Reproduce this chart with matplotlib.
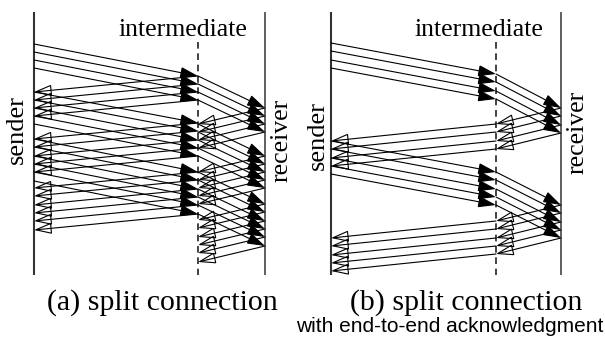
import matplotlib
matplotlib.use('Agg')
import matplotlib.pyplot as plt

# event times (vertical position, time runs downward)
# (a) split connection
a_up_send = [44, 52, 60, 68, 92, 100, 108, 116, 124, 139, 147, 156, 164, 172, 181]
a_up_arr = [76, 84, 92, 100, 123, 131, 140, 148, 156, 172, 180, 189, 197, 205, 214]
a_up_ack = [92, 100, 108, 116, 139, 147, 156, 164, 172, 188, 196, 205, 213, 221, 230]
a_dn_send = [76, 84, 92, 100, 124, 132, 140, 148, 156, 172, 180, 189, 197, 205, 214]
a_dn_arr = [108, 116, 124, 132, 156, 164, 172, 180, 188, 204, 212, 221, 229, 237, 246]
a_dn_ack = [124, 132, 140, 148, 172, 180, 188, 196, 204, 220, 228, 237, 245, 253, 262]

# (b) split connection with end-to-end acknowledgment
b_up_send = [43, 51, 60, 68, 141, 149, 158, 166, 174]
b_up_arr = [74, 82, 91, 99, 172, 180, 189, 197, 205]
b_dn_arr = [108, 116, 125, 133, 205, 213, 222, 230, 238]
b_ack_mid = [124, 132, 141, 149, 221, 229, 238, 246, 254]
b_ack_snd = [141, 149, 158, 166, 238, 246, 255, 263, 271]

# layout (pixels)
NODES_A = (34, 198, 265)
NODES_B = (331, 496, 561)
TOP, BOTTOM, DASH_TOP = 12, 275, 42

SERIF = ['Liberation Serif', 'DejaVu Serif']
SANS = ['Liberation Sans', 'DejaVu Sans']

fig = plt.figure(figsize=(6.05, 3.4), dpi=100)
ax = fig.add_axes([0, 0, 1, 1])
ax.set_xlim(0, 605)
ax.set_ylim(340, 0)
ax.axis('off')


def arrow(x0, t0, x1, t1, filled):
    ax.annotate('', xy=(x1, t1), xytext=(x0, t0),
                arrowprops=dict(arrowstyle='-|>,head_length=1.0,head_width=0.32',
                                mutation_scale=11, lw=0.8, ec='black',
                                fc='black' if filled else 'none',
                                shrinkA=0, shrinkB=0, joinstyle='miter'))


def nodes(xs):
    s, m, r = xs
    ax.plot([s, s], [TOP, BOTTOM], color='#333333', lw=1.5, solid_capstyle='butt')
    ax.plot([r, r], [TOP, BOTTOM], color='#444444', lw=1.2, solid_capstyle='butt')
    ax.plot([m, m], [DASH_TOP, BOTTOM], color='#222222', lw=1.2,
            linestyle=(0, (4, 2.8)))


# panel (a)
s, m, r = NODES_A
nodes(NODES_A)
for t0, t1, t2 in zip(a_up_send, a_up_arr, a_up_ack):
    arrow(s, t0, m, t1, True)
    arrow(m, t1, s, t2, False)
for t0, t1, t2 in zip(a_dn_send, a_dn_arr, a_dn_ack):
    arrow(m, t0, r, t1, True)
    arrow(r, t1, m, t2, False)

# panel (b)
s, m, r = NODES_B
nodes(NODES_B)
for t0, t1, t2, t3, t4 in zip(b_up_send, b_up_arr, b_dn_arr, b_ack_mid, b_ack_snd):
    arrow(s, t0, m, t1, True)
    arrow(m, t1, r, t2, True)
    arrow(r, t2, m, t3, False)
    arrow(m, t3, s, t4, False)

# labels
ax.text(183, 36, 'intermediate', family=SERIF, fontsize=18.5, ha='center', va='baseline')
ax.text(479, 36, 'intermediate', family=SERIF, fontsize=18.5, ha='center', va='baseline')
ax.text(17, 129, 'sender', family=SERIF, fontsize=19, rotation=90, ha='center', va='center')
ax.text(281, 140, 'receiver', family=SERIF, fontsize=18.5, rotation=90, ha='center', va='center')
ax.text(318, 135, 'sender', family=SERIF, fontsize=19, rotation=90, ha='center', va='center')
ax.text(577, 132, 'receiver', family=SERIF, fontsize=18.5, rotation=90, ha='center', va='center')

ax.text(162, 303, '(a) split connection', family=SERIF, fontsize=21.5, ha='center', va='center')
ax.text(466, 303, '(b) split connection', family=SERIF, fontsize=21.5, ha='center', va='center')
ax.text(450, 327, 'with end-to-end acknowledgment', family=SANS, fontsize=15,
        ha='center', va='center')

fig.savefig('out.png', dpi=100)
